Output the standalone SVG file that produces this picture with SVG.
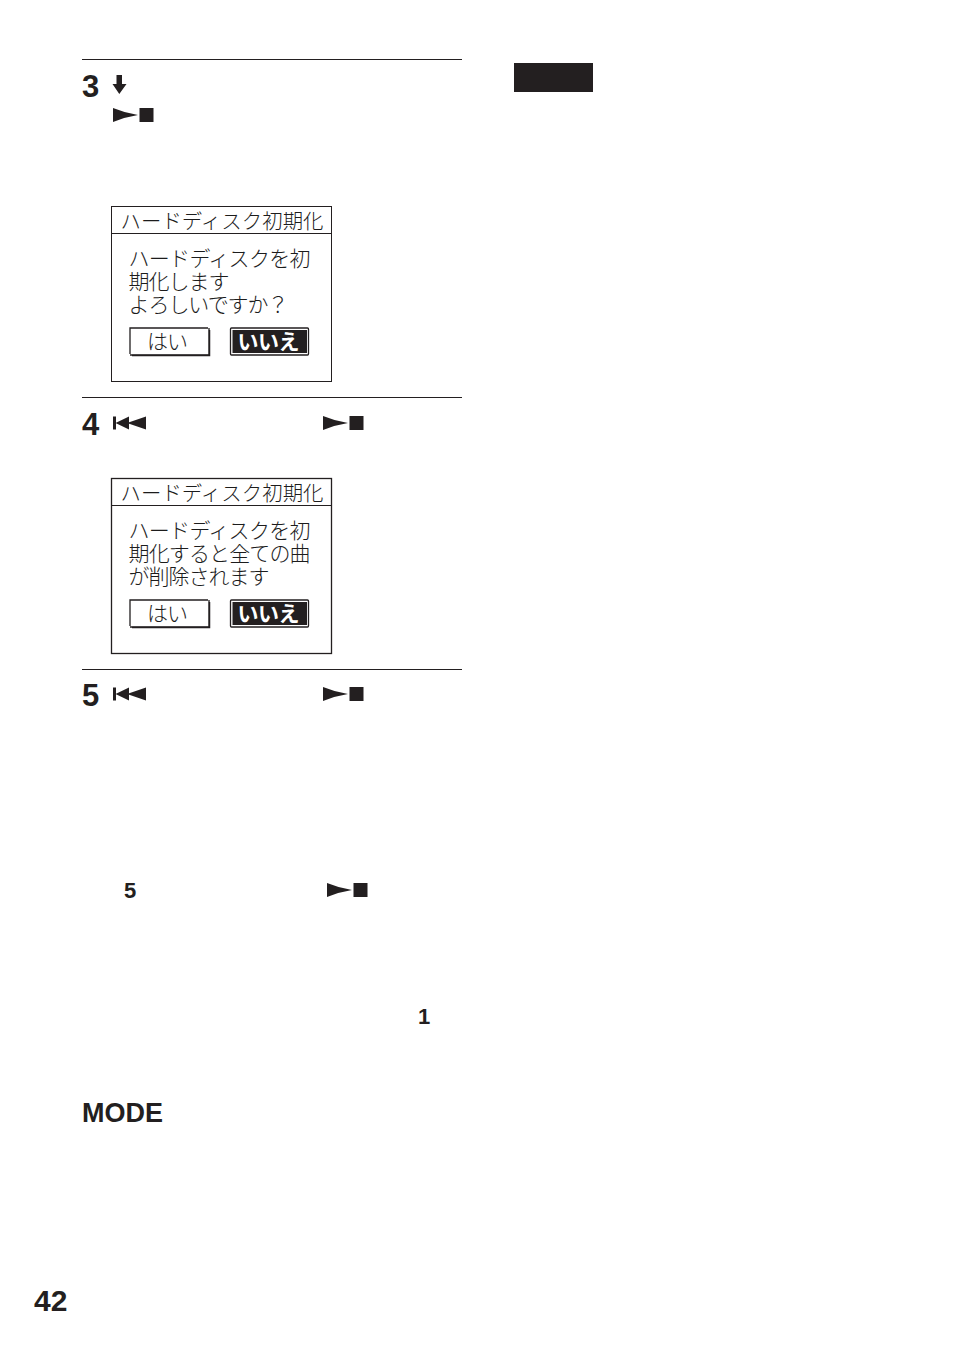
<svg xmlns="http://www.w3.org/2000/svg" width="954" height="1357" viewBox="0 0 954 1357">
<style>
text{font-family:"Noto Sans CJK JP","Liberation Sans",sans-serif;fill:#1c1c1c;font-weight:300}
.n{font-family:"Liberation Sans",Arial,sans-serif;font-weight:700;fill:#231f20}
.t{font-size:20.4px}
.b{font-size:21px}
.w{font-size:21px;font-weight:700;fill:#fff}
.l{stroke:#231f20;stroke-width:1;fill:none}
.box{fill:#fff;stroke:#231f20;stroke-width:1}
.k{fill:#231f20}
</style>
<defs>
<g id="play"><path class="k" d="M0-7Q12-2 25 0Q12 2 0 7Z"/><rect class="k" x="26.500" y="-7" width="14" height="14"/></g>
<g id="prev"><rect class="k" x="0" y="-6.500" width="3" height="13"/><path class="k" d="M2.500 0L16-6.500V6.500ZM14 0L33-6.500V6.500Z"/></g>
<g id="btns">
<path d="M130 354V328H208M130 355H209V328" fill="none" stroke="#231f20" stroke-width="1.300"/>
<path d="M132 355.500H209.500V330" fill="none" stroke="#231f20" stroke-width="1.500"/>
<rect x="230.500" y="328" width="78" height="27" rx="1" fill="#fff" stroke="#231f20" stroke-width="1.300"/>
<rect x="232.500" y="330" width="74.500" height="23" class="k"/>
</g>
</defs>
<g id="rules">
<line class="l" x1="82" y1="59.500" x2="462" y2="59.500"/>
<line class="l" x1="82" y1="397.500" x2="462" y2="397.500"/>
<line class="l" x1="82" y1="669.500" x2="462" y2="669.500"/>
</g>
<rect id="note-tab" x="514" y="63" width="79" height="29" class="k"/>
<g id="step3">
<text class="n" x="82" y="97" font-size="31">3</text>
<path class="k" d="M116.500 75H122V84H126.500L119.300 94L112.500 84H116.500Z"/>
<use href="#play" x="113" y="115"/>
</g>
<g id="screen1">
<rect class="box" x="111.500" y="206.500" width="220" height="175"/>
<line class="l" x1="111.500" y1="233.500" x2="331.500" y2="233.500"/>
<text class="t" x="120.500" y="228.500" textLength="203">ハードディスク初期化</text>
<text class="b" x="128.500" y="266" textLength="182">ハードディスクを初</text>
<text class="b" x="128.500" y="289" textLength="101">期化します</text>
<text class="b" x="128.500" y="312" textLength="160">よろしいですか？</text>
<use href="#btns"/>
<text class="b" x="147" y="348.500" textLength="41">はい</text>
<text class="w" x="237.500" y="348.500" textLength="62">いいえ</text>
</g>
<g id="step4">
<text class="n" x="82" y="435" font-size="31">4</text>
<use href="#prev" x="113" y="423"/>
<use href="#play" x="323" y="423"/>
</g>
<g id="screen2">
<rect class="box" x="111.500" y="478.500" width="220" height="175" style="stroke-width:1.300"/>
<line class="l" x1="111.500" y1="505.500" x2="331.500" y2="505.500"/>
<text class="t" x="120.500" y="500.500" textLength="203">ハードディスク初期化</text>
<text class="b" x="128.500" y="538" textLength="182">ハードディスクを初</text>
<text class="b" x="128.500" y="561" textLength="182">期化すると全ての曲</text>
<text class="b" x="128.500" y="584" textLength="141">が削除されます</text>
<use href="#btns" y="272"/>
<text class="b" x="147" y="620.500" textLength="41">はい</text>
<text class="w" x="237.500" y="620.500" textLength="62">いいえ</text>
</g>
<g id="step5">
<text class="n" x="82" y="706" font-size="31">5</text>
<use href="#prev" x="113" y="694"/>
<use href="#play" x="323" y="694"/>
</g>
<g id="para">
<text class="n" x="124" y="898" font-size="22">5</text>
<use href="#play" x="327" y="890"/>
<text class="n" x="418" y="1024" font-size="22">1</text>
<text class="n" x="82" y="1122" font-size="27">MODE</text>
<text class="n" x="34" y="1311" font-size="30">42</text>
</g>
</svg>
